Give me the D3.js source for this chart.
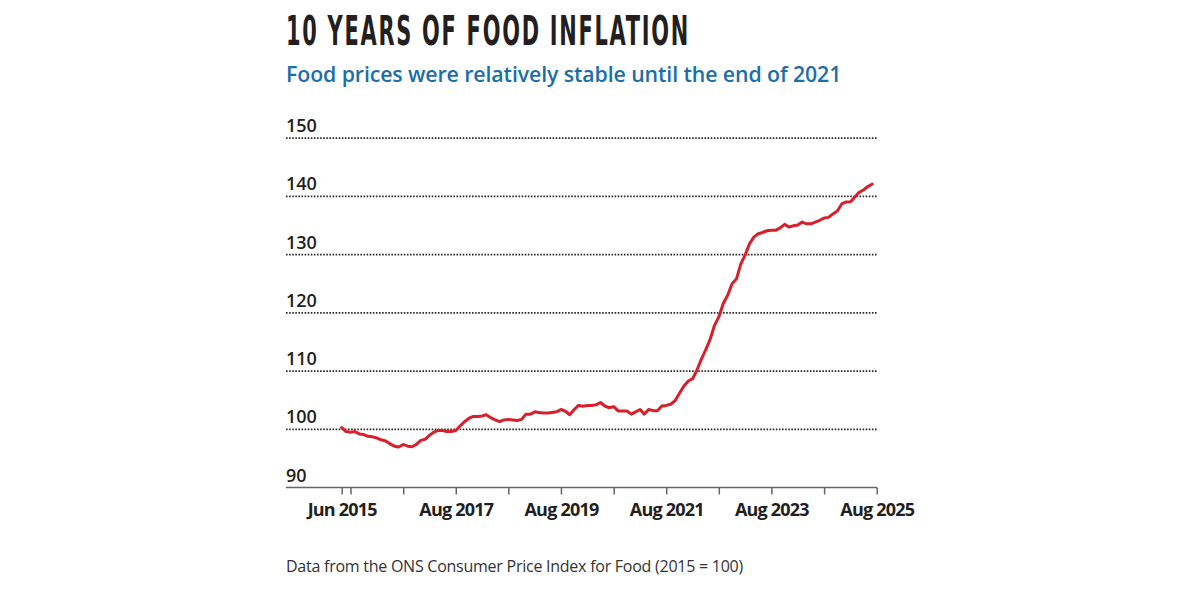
<!DOCTYPE html>
<html>
<head>
<meta charset="utf-8">
<script src="https://cdn.jsdelivr.net/npm/d3@7"></script>
<style>
  html, body { margin: 0; padding: 0; background: #fff; }
  svg { display: block; }
</style>
</head>
<body>
<svg id="chart" width="1178" height="589"></svg>
<script>
// ---- Data ----
const titleText = "10 YEARS OF FOOD INFLATION";
const subtitleText = "Food prices were relatively stable until the end of 2021";
const sourceText = "Data from the ONS Consumer Price Index for Food (2015 = 100)";

const firstMonth = "2015-06"; // monthly series, Jun 2015 ... Jul 2025
const cpiFood = [
  100.3, 99.6, 99.5, 99.6, 99.2, 99.1, 98.8, 98.7, 98.5, 98.2, 98.0, 97.5,
  97.1, 96.95, 97.4, 97.1, 97.0, 97.4, 98.1, 98.3, 99.0, 99.5, 99.8, 99.8,
  99.6, 99.6, 99.8, 100.6, 101.3, 101.9, 102.2, 102.2, 102.3, 102.5, 102.0, 101.6,
  101.3, 101.6, 101.7, 101.6, 101.5, 101.7, 102.6, 102.6, 103.0, 102.9, 102.8, 102.8,
  102.9, 103.0, 103.4, 103.1, 102.5, 103.4, 104.1, 103.95, 104.1, 104.1, 104.2, 104.6,
  104.0, 103.7, 103.9, 103.15, 103.15, 103.15, 102.6, 103.0, 103.4, 102.6, 103.4, 103.2,
  103.2, 104.0, 104.1, 104.3, 104.9, 106.2, 107.4, 108.3, 108.7, 110.1, 112.0, 113.6,
  115.4, 117.8, 119.3, 121.6, 123.0, 125.0, 125.8, 128.4, 130.0, 131.8, 133.0, 133.6,
  133.8, 134.1, 134.2, 134.2, 134.6, 135.2, 134.75, 134.95, 135.1, 135.6, 135.3, 135.3,
  135.6, 135.9, 136.3, 136.4, 137.0, 137.5, 138.7, 139.05, 139.1, 139.85, 140.7, 141.1,
  141.7, 142.1
];

const xDomain = ["2015-06", "2025-08"];
const xTicks = ["2015-06", "2015-08", "2016-08", "2017-08", "2018-08", "2019-08",
                "2020-08", "2021-08", "2022-08", "2023-08", "2024-08", "2025-08"];
const xTickLabels = ["Jun 2015", "", "", "Aug 2017", "", "Aug 2019",
                     "", "Aug 2021", "", "Aug 2023", "", "Aug 2025"];
const yDomain = [90, 150];
const yTicks = [90, 100, 110, 120, 130, 140, 150];

// ---- Setup ----
const parseMonth = d3.timeParse("%Y-%m");
const start = parseMonth(firstMonth);
const data = cpiFood.map((v, i) => ({ date: d3.timeMonth.offset(start, i), value: v }));

const svg = d3.select("#chart");
const left = 286, right = 877;
const x = d3.scaleTime().domain(xDomain.map(parseMonth)).range([341.7, 876.7]);
const y = d3.scaleLinear().domain(yDomain).range([487.5, 138.2]);

const bodyFont = "'Open Sans', 'Noto Sans', sans-serif";

// Title
svg.append("text")
  .attr("x", left).attr("y", 45)
  .attr("font-family", "'Liberation Sans Narrow', 'DejaVu Sans Condensed', sans-serif")
  .attr("font-weight", "bold")
  .attr("font-size", 40)
  .attr("letter-spacing", 3)
  .attr("textLength", 404)
  .attr("lengthAdjust", "spacingAndGlyphs")
  .attr("fill", "#231f20")
  .text(titleText);

// Subtitle
svg.append("text")
  .attr("x", left).attr("y", 82)
  .attr("font-family", bodyFont)
  .attr("font-weight", 600)
  .attr("font-size", 21.3)
  .attr("letter-spacing", -0.1)
  .attr("fill", "#1b6ea6")
  .text(subtitleText);

// Gridlines (dotted) for all but the baseline
svg.append("g").selectAll("line")
  .data(yTicks.filter(t => t !== yDomain[0]))
  .join("line")
  .attr("x1", left).attr("x2", right)
  .attr("y1", d => y(d)).attr("y2", d => y(d))
  .attr("stroke", "#2a2a2a")
  .attr("stroke-width", 1.7)
  .attr("stroke-dasharray", "1.6,1.5");

// Y labels
svg.append("g").selectAll("text")
  .data(yTicks)
  .join("text")
  .attr("x", left)
  .attr("y", d => y(d) - 6)
  .attr("font-family", bodyFont)
  .attr("font-weight", 600)
  .attr("font-size", 18)
  .attr("fill", "#231f20")
  .text(d => d);

// X axis
const xAxis = d3.axisBottom(x)
  .tickValues(xTicks.map(parseMonth))
  .tickSize(7)
  .tickSizeOuter(0)
  .tickFormat((d, i) => xTickLabels[i]);

const gx = svg.append("g")
  .attr("transform", `translate(0,${y(yDomain[0])})`)
  .call(xAxis);
gx.select(".domain").remove();
gx.append("line")
  .attr("x1", left).attr("x2", right)
  .attr("y1", 0).attr("y2", 0)
  .attr("stroke", "#666").attr("stroke-width", 1.5);
gx.selectAll(".tick line").attr("stroke", "#666").attr("stroke-width", 1.5);
gx.selectAll(".tick text")
  .attr("y", 16)
  .attr("dy", "0.71em")
  .attr("font-family", bodyFont)
  .attr("font-weight", 700)
  .attr("font-size", 18)
  .attr("letter-spacing", -0.8)
  .attr("fill", "#231f20");

// Line
const line = d3.line()
  .x(d => x(d.date))
  .y(d => y(d.value));

svg.append("path")
  .datum(data)
  .attr("d", line)
  .attr("fill", "none")
  .attr("stroke", "#d7202b")
  .attr("stroke-width", 3)
  .attr("stroke-linejoin", "round")
  .attr("stroke-linecap", "round");

// Source note
svg.append("text")
  .attr("x", left).attr("y", 572)
  .attr("font-family", bodyFont)
  .attr("font-weight", 400)
  .attr("font-size", 16)
  .attr("letter-spacing", -0.25)
  .attr("fill", "#333")
  .text(sourceText);
</script>
</body>
</html>
